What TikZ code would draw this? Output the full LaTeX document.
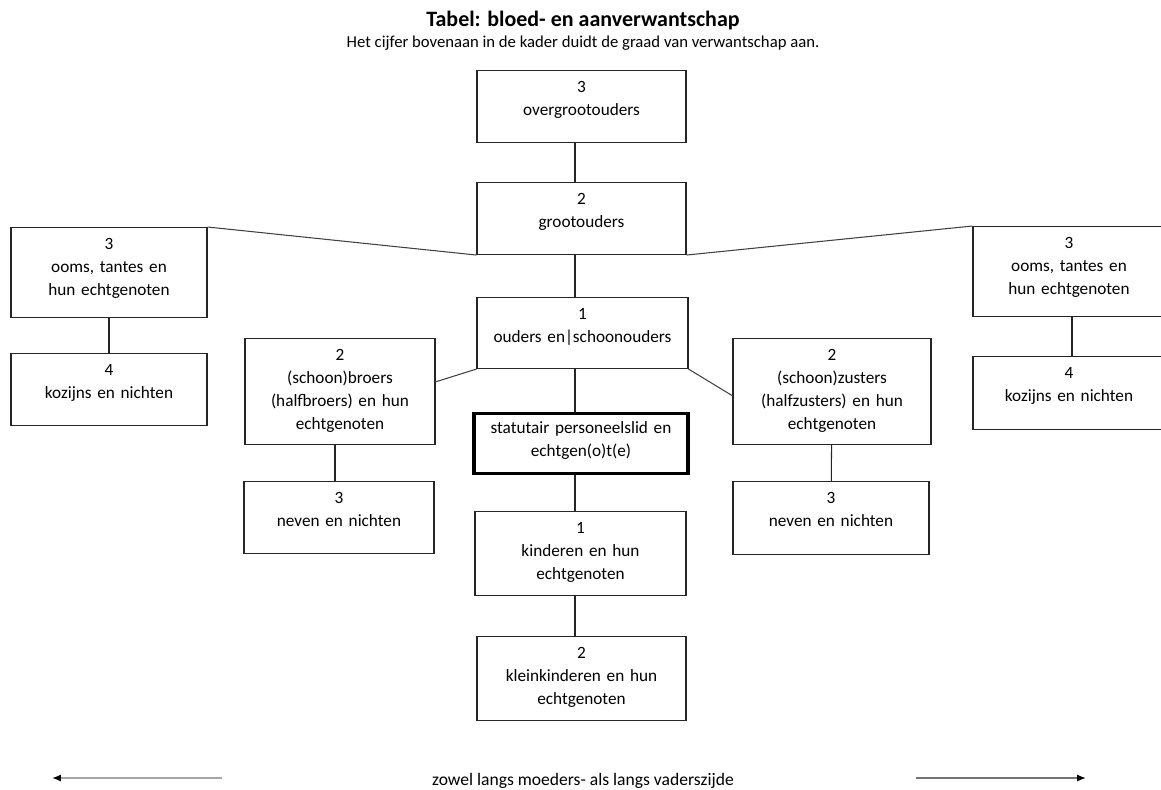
\documentclass[tikz,border=0pt]{standalone}
\usepackage{fontspec}
\setmainfont{Carlito}
\usetikzlibrary{arrows.meta,calc}
\tikzset{
	kader/.style={draw=black!85, line width=0.6pt, inner sep=0pt, align=center, anchor=north,
		font=\fontsize{9.8}{13}\selectfont, text height=0.44cm},
	lijn/.style={draw=black!85, line width=0.6pt},
	schuin/.style={draw=black!75, line width=0.6pt},
	pijl/.style={line width=0.9pt, -{Latex[length=5pt,width=4pt,black]}}
}
\begin{document}
\begin{tikzpicture}[x=0.02cm,y=-0.02cm]
		\useasboundingbox (0,0) rectangle (1161,789);
		%Titel
		\node[anchor=base, font=\bfseries\fontsize{12.5}{15}\selectfont] (titel) at (583,26) {Tabel: bloed- en aanverwantschap};
		\node[anchor=base, font=\fontsize{9.5}{12}\selectfont] (uitleg) at (583,47) {Het cijfer bovenaan in de kader duidt de graad van verwantschap aan.};
		%Middenkolom
		\node[kader, text width=4.18cm, text depth=1.00cm] (og) at (581.5,70) {3\\overgrootouders};
		\node[kader, text width=4.18cm, text depth=1.00cm] (go) at (581.5,182) {2\\grootouders};
		\node[kader, text width=4.22cm, text depth=0.98cm] (ou) at (582.5,297) {1\\ouders en|schoonouders};
		\node[kader, line width=1.8pt, draw=black, text width=4.28cm, text height=0.40cm, text depth=0.80cm] (st) at (581,412) {statutair personeelslid en\\echtgen(o)t(e)};
		\node[kader, text width=4.22cm, text depth=1.24cm] (ki) at (580.5,511) {1\\kinderen en hun\\echtgenoten};
		\node[kader, text width=4.18cm, text depth=1.24cm] (kk) at (581.5,636) {2\\kleinkinderen en hun\\echtgenoten};
		%Zijkanten
		\node[kader, text width=3.92cm, text depth=1.36cm] (ooL) at (109,227) {3\\ooms, tantes en\\hun echtgenoten};
		\node[kader, text width=3.92cm, text depth=1.00cm] (kzL) at (109,353) {4\\kozijns en nichten};
		\node[kader, text width=3.80cm, text depth=1.68cm] (brL) at (340,338) {2\\(schoon)broers\\(halfbroers) en hun\\echtgenoten};
		\node[kader, text width=3.80cm, text depth=1.00cm] (neL) at (339,481) {3\\neven en nichten};
		\node[kader, text width=3.96cm, text depth=1.68cm] (zuR) at (832,338) {2\\(schoon)zusters\\(halfzusters) en hun\\echtgenoten};
		\node[kader, text width=3.92cm, text depth=1.02cm] (neR) at (831,481) {3\\neven en nichten};
		\node[kader, text width=3.84cm, text depth=1.36cm] (ooR) at (1069,226) {3\\ooms, tantes en\\hun echtgenoten};
		\node[kader, text width=3.84cm, text depth=1.02cm] (kzR) at (1069,356) {4\\kozijns en nichten};
		%Verbindingen
		\coordinate (as) at (575,0);
		\coordinate (asL) at (335,0);
		\coordinate (asR) at (1072,0);
		\draw[lijn] (og.south -| as) -- (go.north -| as);
		\draw[lijn] (go.south -| as) -- (ou.north -| as);
		\draw[lijn] (ou.south -| as) -- (st.north -| as);
		\draw[lijn] (st.south -| as) -- (ki.north -| as);
		\draw[lijn] (ki.south -| as) -- (kk.north -| as);
		\draw[lijn] (ooL) -- (kzL);
		\draw[lijn] (ooR.south -| asR) -- (kzR.north -| asR);
		\draw[lijn] (brL.south -| asL) -- (neL.north -| asL);
		\draw[lijn] (zuR) -- (neR);
		\draw[schuin] (ooL.north east) -- (go.south west);
		\draw[schuin] (go.south east) -- (ooR.north west);
		\draw[schuin] (ou.south west) -- ($(brL.north east)!0.41!(brL.south east)$);
		\draw[schuin] (ou.south east) -- ($(zuR.north west)!0.54!(zuR.south west)$);
		%Onderschrift
		\node[anchor=base, font=\fontsize{10}{12}\selectfont] (zijde) at (583,785) {zowel langs moeders- als langs vaderszijde};
		\coordinate (pL1) at (222,778);
		\coordinate (pL2) at (52,778);
		\coordinate (pR1) at (916,778);
		\coordinate (pR2) at (1086,778);
		\draw[pijl, black!35] (pL1) -- (pL2);
		\draw[pijl, black!55] (pR1) -- (pR2);
	\end{tikzpicture}
\end{document}
